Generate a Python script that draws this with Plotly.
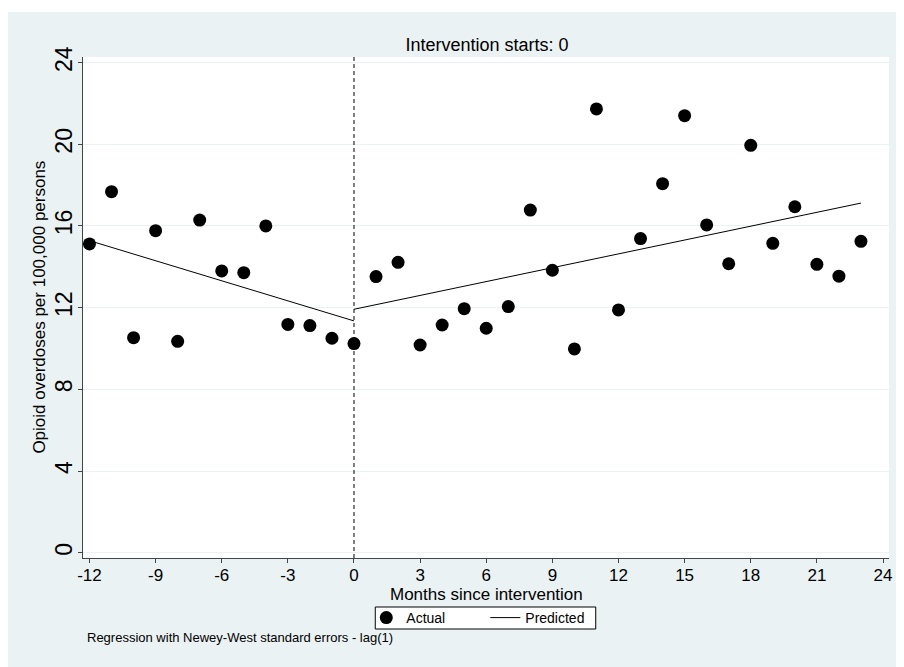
import plotly.graph_objects as go

# ---- data ----
months = list(range(-12, 24))
actual = [15.12, 17.68, 10.53, 15.77, 10.35, 16.29, 13.80, 13.71, 16.00, 11.18, 11.12, 10.50,
          10.24, 13.52, 14.22, 10.17, 11.15, 11.95, 10.99, 12.05, 16.78, 13.83, 9.98, 21.73,
          11.89, 15.38, 18.07, 21.40, 16.05, 14.15, 19.95, 15.15, 16.94, 14.12, 13.54, 15.25]
pred_x = [-12, 0, None, 0, 23]
pred_y = [15.28, 11.35, None, 11.92, 17.12]
x_ticks = [-12, -9, -6, -3, 0, 3, 6, 9, 12, 15, 18, 21, 24]
x_ticklabels = ["-12", "-9", "-6", "-3", "0", "3", "6", "9", "12", "15", "18", "21", "24"]
y_ticks = [0, 4, 8, 12, 16, 20, 24]
y_ticklabels = ["0", "4", "8", "12", "16", "20", "24"]
intervention = 0

BG = "#EAF2F3"
FONT = "Liberation Sans, Arial, sans-serif"

W, H = 896, 659
L, R, T, B = 75, 13, 49, 109
PW, PH = W - L - R, H - T - B
OFF = 8  # page offset of the figure


def px_x(page_x):
    return (page_x - OFF - L) / PW


def px_y(page_y):
    return (H - B - (page_y - OFF)) / PH


fig = go.Figure()
fig.add_trace(go.Scatter(x=months, y=actual, mode="markers", name="Actual",
                         marker=dict(color="black", size=13)))
fig.add_trace(go.Scatter(x=pred_x, y=pred_y, mode="lines", name="Predicted",
                         line=dict(color="black", width=1), connectgaps=False))

fig.add_shape(type="line", xref="x", yref="paper", x0=intervention, x1=intervention, y0=0, y1=1,
              line=dict(color="black", width=1, dash="4px,3px"))

# thin white strip above the graph region
fig.add_shape(type="rect", xref="paper", yref="paper",
              x0=-L/PW - 0.05, x1=1 + R/PW + 0.05, y0=1 + (T - 4)/PH, y1=1 + (T + 10)/PH,
              fillcolor="white", line=dict(width=0), layer="below")

# legend frame
fig.add_shape(type="rect", xref="paper", yref="paper",
              x0=px_x(376), x1=px_x(597), y0=px_y(629), y1=px_y(607),
              fillcolor="white", line=dict(color="black", width=1), layer="above")

fig.update_layout(
    width=W, height=H,
    margin=dict(l=L, r=R, t=T, b=B),
    paper_bgcolor=BG, plot_bgcolor="white",
    font=dict(family=FONT, color="black"),
    showlegend=True,
    legend=dict(orientation="h", x=px_x(367), xanchor="left", y=px_y(618), yanchor="middle",
                borderwidth=0, bgcolor="rgba(0,0,0,0)",
                font=dict(size=14, family=FONT), itemwidth=30, entrywidth=74,
                tracegroupgap=0),
    title=dict(text="Intervention starts: 0", x=(487 - OFF) / W, xanchor="center",
               y=1 - (45 - OFF)/H, yanchor="middle", font=dict(size=18, family=FONT)),
    xaxis=dict(range=[-12.294, 24.272], tickvals=x_ticks, ticktext=x_ticklabels,
               showgrid=False, zeroline=False,
               showline=True, linecolor="#444", linewidth=1, ticks="outside", ticklen=4,
               tickcolor="#444", tickfont=dict(size=17), ticklabelstandoff=-2),
    yaxis=dict(range=[-0.26, 24.274], tickvals=y_ticks, ticktext=y_ticklabels,
               showgrid=True, gridcolor=BG, gridwidth=1,
               zeroline=False, showline=True, linecolor="#444", linewidth=1, ticks="outside",
               ticklen=4, tickcolor="#444", tickangle=-90, tickfont=dict(size=23),
               ticklabelstandoff=-3),
)

# axis titles
fig.add_annotation(text="Months since intervention", xref="paper", yref="paper",
                   x=0.5, y=px_y(594), xanchor="center", yanchor="middle",
                   showarrow=False, font=dict(size=17, family=FONT))
fig.add_annotation(text="Opioid overdoses per 100,000 persons", xref="paper", yref="paper",
                   x=px_x(39), y=0.5, xanchor="center", yanchor="middle", textangle=-90,
                   showarrow=False, font=dict(size=17, family=FONT))

fig.add_annotation(text="Regression with Newey-West standard errors - lag(1)", xref="paper", yref="paper",
                   x=px_x(85), y=px_y(637), xanchor="left", yanchor="middle", showarrow=False,
                   font=dict(size=13, family=FONT))

fig.write_html("out.html")
